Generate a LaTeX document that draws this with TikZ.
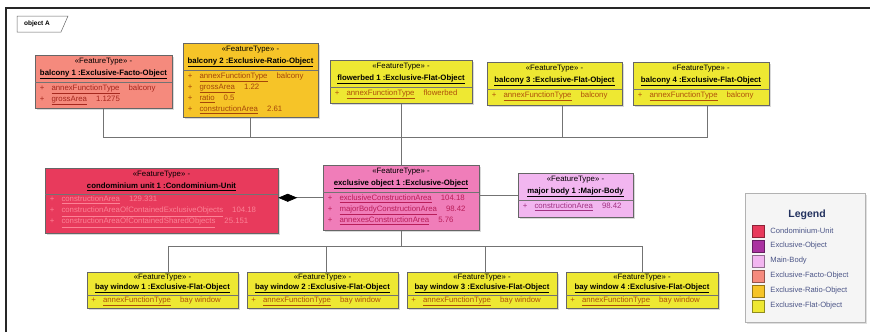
\documentclass[tikz,border=0pt]{standalone}
\usepackage{fontspec}
\setmainfont{Liberation Sans}
\usetikzlibrary{arrows.meta,shadows}

\definecolor{condofill}{RGB}{232,58,92}
\definecolor{condoatt}{RGB}{252,130,150}
\definecolor{exclfill}{RGB}{240,125,185}
\definecolor{exclatt}{RGB}{185,30,90}
\definecolor{mainfill}{RGB}{242,182,240}
\definecolor{mainatt}{RGB}{160,50,130}
\definecolor{factofill}{RGB}{245,138,125}
\definecolor{factoatt}{RGB}{165,40,30}
\definecolor{ratiofill}{RGB}{246,196,40}
\definecolor{ratioatt}{RGB}{165,70,10}
\definecolor{flatfill}{RGB}{238,232,50}
\definecolor{flatatt}{RGB}{175,80,10}
\definecolor{exclswatch}{RGB}{170,50,160}
\definecolor{legendtext}{RGB}{75,85,135}
\definecolor{legendtitle}{RGB}{35,50,95}

% one attribute line: + name value
\newcommand{\attrline}[2]{+\hspace{7pt}\underline{#1}\hspace{9pt}#2}
% feature box: name, centre x, top y, width, height, colour prefix, title, attributes
\newcommand{\featbox}[8]{%
  \node[featbox, fill=#6fill, minimum width=#4, minimum height=#5] (#1) at (#2,#3) {};
  \node[boxhead] (#1-head) at (#1.north) {«FeatureType» -\\\textbf{\underline{#7}}};
  \draw[boxsep] (#1-head.south -| #1.west) -- (#1-head.south -| #1.east);
  \node[boxattr, text=#6att] (#1-attr) at ([xshift=3pt]#1-head.south -| #1.west) {#8};
}

\begin{document}
\begin{tikzpicture}[x=1pt, y=-1pt,
    featbox/.style={draw=black!60, line width=0.5pt, anchor=north, inner sep=0pt,
      drop shadow={shadow xshift=1.5pt, shadow yshift=-1.5pt, opacity=0.3}},
    boxhead/.style={anchor=north, align=center, inner xsep=2pt, inner ysep=3pt,
      font=\fontsize{7.8}{12}\selectfont},
    boxsep/.style={draw=black!55, line width=0.4pt},
    boxattr/.style={anchor=north west, align=left, inner sep=2pt, font=\fontsize{7.8}{11}\selectfont},
    link/.style={draw=black!55, line width=0.7pt},
    swatch/.style={minimum size=12pt, inner sep=0pt, line width=0.5pt},
    legtext/.style={anchor=west, inner sep=0pt, text=legendtext, font=\fontsize{7.6}{8}\selectfont}]
  \useasboundingbox (0,0) rectangle (870,332);
  % frame and tab
  \draw[line width=1.2pt, black!85] (6,332) -- (6,8) -- (870,8);
  \draw[line width=0.5pt, black!60] (17,16) -- (68,16) -- (61,32) -- (17,32) -- cycle;
  \node[font=\bfseries\fontsize{6.5}{8}\selectfont] (tab) at (37,24) {object A};

  % top row
  \featbox{b1}{103.5}{55}{137}{53}{facto}{balcony 1 :Exclusive-Facto-Object}
    {\attrline{annexFunctionType}{balcony}\\\attrline{grossArea}{1.1275}}
  \featbox{b2}{250.5}{43}{135}{74}{ratio}{balcony 2 :Exclusive-Ratio-Object}
    {\attrline{annexFunctionType}{balcony}\\\attrline{grossArea}{1.22}\\
     \attrline{ratio}{0.5}\\\attrline{constructionArea}{2.61}}
  \featbox{fb1}{401}{60}{142}{43}{flat}{flowerbed 1 :Exclusive-Flat-Object}
    {\attrline{annexFunctionType}{flowerbed}}
  \featbox{b3}{554.5}{62}{135}{43}{flat}{balcony 3 :Exclusive-Flat-Object}
    {\attrline{annexFunctionType}{balcony}}
  \featbox{b4}{701}{62}{136}{43}{flat}{balcony 4 :Exclusive-Flat-Object}
    {\attrline{annexFunctionType}{balcony}}

  % middle row
  \featbox{condo}{161.5}{168}{233}{65}{condo}{condominium unit 1 :Condominium-Unit}
    {\attrline{constructionArea}{129.331}\\
     \attrline{constructionAreaOfContainedExclusiveObjects}{104.18}\\
     \attrline{constructionAreaOfContainedSharedObjects}{25.151}}
  \featbox{excl}{401}{165}{156}{65}{excl}{exclusive object 1 :Exclusive-Object}
    {\attrline{exclusiveConstructionArea}{104.18}\\
     \attrline{majorBodyConstructionArea}{98.42}\\
     \attrline{annexesConstructionArea}{5.76}}
  \featbox{major}{575.5}{173}{115}{44}{main}{major body 1 :Major-Body}
    {\attrline{constructionArea}{98.42}}

  % bottom row, a bit tighter
  \begin{scope}[boxhead/.append style={inner ysep=2pt, font=\fontsize{7.8}{9.5}\selectfont},
      boxattr/.append style={inner sep=1.5pt}]
  \featbox{bw1}{162.5}{272}{151}{36}{flat}{bay window 1 :Exclusive-Flat-Object}
    {\attrline{annexFunctionType}{bay window}}
  \featbox{bw2}{322.5}{272}{151}{36}{flat}{bay window 2 :Exclusive-Flat-Object}
    {\attrline{annexFunctionType}{bay window}}
  \featbox{bw3}{482}{272}{150}{36}{flat}{bay window 3 :Exclusive-Flat-Object}
    {\attrline{annexFunctionType}{bay window}}
  \featbox{bw4}{642}{272}{152}{36}{flat}{bay window 4 :Exclusive-Flat-Object}
    {\attrline{annexFunctionType}{bay window}}
  \end{scope}

  % connectors
  \coordinate (topbus) at (401,137);
  \coordinate (botbus) at (401,246);
  \draw[link] (b1.south) |- (topbus);
  \draw[link] (b2.south) |- (topbus);
  \draw[link] ([xshift=7.5pt]b3.south) |- (topbus);
  \draw[link] ([xshift=6pt]b4.south) |- (topbus);
  \draw[link] (fb1.south) -- (excl.north);
  \draw[link] (excl.south) -- (botbus);
  \draw[link] ([xshift=5.5pt]bw1.north) |- (botbus);
  \draw[link] ([xshift=3.5pt]bw2.north) |- (botbus);
  \draw[link] ([xshift=3pt]bw3.north) |- (botbus);
  \draw[link] (bw4.north) |- (botbus);
  \draw[link, -{Diamond[length=19pt, width=8pt, black]}] (excl.west) -- (excl.west -| condo.east);
  \draw[link] (excl.east |- major.west) -- (major.west);

  % legend
  \node[draw=black!30, fill=black!4, anchor=north west, minimum width=120, minimum height=129,
    drop shadow={shadow xshift=1.5pt, shadow yshift=-1.5pt, opacity=0.25}] (legend) at (745,193) {};
  \node[font=\bfseries\fontsize{10.5}{12}\selectfont, text=legendtitle] (lgtitle) at (807,215) {Legend};
  \foreach \c/\t [count=\i] in {condofill/Condominium-Unit, exclswatch/Exclusive-Object,
      mainfill/Main-Body, factofill/Exclusive-Facto-Object, ratiofill/Exclusive-Ratio-Object,
      flatfill/Exclusive-Flat-Object} {
    \node[swatch, fill=\c, draw=\c!60!black] (sw\i) at (758,216+15*\i) {};
    \node[legtext] (lg\i) at ([xshift=6pt]sw\i.east) {\t};
  }
\end{tikzpicture}
\end{document}
